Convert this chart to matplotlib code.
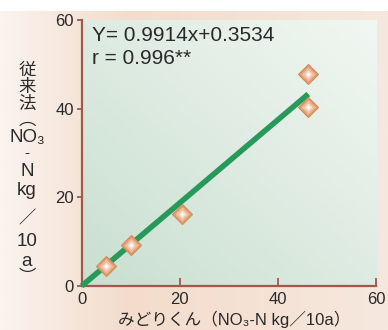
import numpy as np
import matplotlib
matplotlib.use("Agg")
import matplotlib.pyplot as plt
from matplotlib.colors import LinearSegmentedColormap

# data
x_midori = [5.0, 10.0, 20.5, 46.2, 46.2]
y_juurai = [4.6, 9.2, 16.2, 47.8, 40.4]
fit_x = [0, 46.2]
fit_y = [0, 43.3]
ticks = [0, 20, 40, 60]
eq_text = "Y= 0.9914x+0.3534"
r_text = "r = 0.996**"
xlabel = "みどりくん（NO₃-N kg／10a）"
ylabel_parts = ["従", "来", "法", "︵", "NO₃", "-", "N", "kg", "／", "10", "a", "︶"]

FAM = ["Liberation Sans", "Noto Sans CJK JP", "DejaVu Sans"]
plt.rcParams["font.family"] = FAM
SP = "#a0584c"
TXT = "#2a2a2a"

W, H = 388, 330
fig = plt.figure(figsize=(W / 100, H / 100), dpi=100)

# page background (beige gradient, white strip on top)
bg = fig.add_axes([0, 0, 1, 1 - 11 / H], zorder=-5)
bg.axis("off")
bcm = LinearSegmentedColormap.from_list("bg", ["#faf3ee", "#f3dccb", "#f5e2d5", "#f6e8de"])
gx = np.linspace(0, 1, 200)[None, :].repeat(10, axis=0)
bg.imshow(gx, cmap=bcm, aspect="auto", extent=[0, 1, 0, 1])
bg.set_xlim(0, 1); bg.set_ylim(0, 1)

ax = fig.add_axes([81.7 / W, 44 / H, 294.3 / W, 266 / H])
ax.set_xlim(0, 60); ax.set_ylim(0, 60)

# plot-area gradient, darker green at lower left
acm = LinearSegmentedColormap.from_list("pa", ["#c9dfd0", "#deebe2", "#f1f7f2"])
u, v = np.meshgrid(np.linspace(0, 1, 100), np.linspace(0, 1, 100))
ax.imshow((u + v) / 2, cmap=acm, origin="lower", extent=[0, 60, 0, 60],
          aspect="auto", zorder=0)

ax.plot(fit_x, fit_y, color="#27995a", lw=4, solid_capstyle="butt", zorder=3, clip_on=False)
ax.plot(x_midori, y_juurai, ls="none", marker="D", ms=10.5, mfc="#e0a077",
        mec="#d48a58", mew=0.8, zorder=4)
ax.plot(x_midori, y_juurai, ls="none", marker="D", ms=7, mfc="#edbf9e",
        mec="none", zorder=5)
ax.plot(x_midori, y_juurai, ls="none", marker="D", ms=4, mfc="#f8e2d2",
        mec="none", zorder=6)
ax.plot(x_midori, y_juurai, ls="none", marker="o", ms=2, mfc="#ffffff",
        mec="none", zorder=7)

for s in ["top", "right"]:
    ax.spines[s].set_visible(False)
for s in ["left", "bottom"]:
    ax.spines[s].set_color(SP)
    ax.spines[s].set_linewidth(1.6)

ax.set_xticks(ticks); ax.set_yticks(ticks)
ax.tick_params(axis="x", direction="in", length=6, width=1.3, color=SP,
               labelsize=12, labelcolor=TXT, pad=4)
ax.tick_params(axis="y", direction="out", length=3.5, width=1.3, color=SP,
               labelsize=12, labelcolor=TXT, pad=2)

ax.text(0.035, 0.94, eq_text, transform=ax.transAxes, fontsize=15,
        color=TXT, ha="left", va="center")
ax.text(0.035, 0.855, r_text, transform=ax.transAxes, fontsize=15,
        color=TXT, ha="left", va="center")

fig.text(234 / W, 1 - 319 / H, xlabel, fontsize=12, color=TXT,
         ha="center", va="center")

ypix = [70, 87, 104, 120, 138, 153, 171, 191, 218, 241, 261, 277]
for t, yp in zip(ylabel_parts, ypix):
    if t in ("従", "来", "法", "︵", "︶", "／"):
        fs = 12.5
    elif t == "-":
        fs = 11
    else:
        fs = 13.5
    fig.text(27 / W, 1 - yp / H, t, fontsize=fs, color=TXT,
             ha="center", va="center")

fig.savefig("out.png", dpi=100)
